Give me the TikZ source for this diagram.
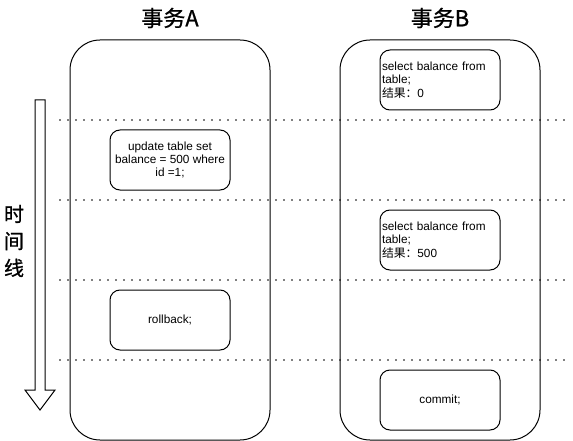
\documentclass[tikz,border=0pt]{standalone}
\usepackage{fontspec}
\setmainfont{Liberation Sans}
\newfontfamily\cjk{Noto Sans CJK SC}
\newfontfamily\cjkt{Noto Sans CJK SC}[FakeBold=0.8]
\begin{document}
\begin{tikzpicture}[x=1pt,y=-1pt,
  bigbox/.style={draw, line width=1pt, rounded corners=30pt, minimum width=200pt, minimum height=400pt, inner sep=0pt},
  stepbox/.style={draw, line width=1pt, rounded corners=10pt, minimum width=120pt, minimum height=60pt, inner sep=1pt, font=\fontsize{11.8}{13.4}\selectfont},
  dotline/.style={line width=1.6pt, dash pattern=on 0pt off 8pt, line cap=round},
  title/.style={font=\cjkt\fontsize{22}{26}\selectfont, inner sep=0pt}
]
\useasboundingbox (0,0) rectangle (573,441);
% big boxes
\node[bigbox] (A) at (170,240) {};
\node[bigbox] (B) at (440,240) {};
% titles
\node[title] (tA) at (170,18) {事务A};
\node[title] (tB) at (440,18) {事务B};
% dotted lines
\foreach \y/\n in {120/1,200/2,280/3,360/4}{
  \coordinate (l\n) at (60,\y);
  \coordinate (r\n) at (568,\y);
  \draw[dotline] (l\n) -- (r\n);
}
% step boxes A
\node[stepbox, align=center] (upd) at (170,160) {update table set\\balance = 500 where\\id =1;};
\node[stepbox] (rb) at (170,320) {rollback;};
% step boxes B
\node[stepbox, text width=116pt, align=left] (s1) at (440,80) {select balance from\\table;\\{\cjk 结果：}0};
\node[stepbox, text width=116pt, align=left] (s2) at (440,240) {select balance from\\table;\\{\cjk 结果：}500};
\node[stepbox] (cm) at (440,400) {commit;};
% time arrow
\draw[line width=1pt, line join=miter] (35,100) -- (45,100) -- (45,390) -- (55,390) -- (40,410) -- (25,390) -- (35,390) -- cycle;
\node[font=\cjkt\fontsize{20}{27}\selectfont, align=center, inner sep=0pt] (tl) at (14,241) {时\\间\\线};
\end{tikzpicture}
\end{document}
